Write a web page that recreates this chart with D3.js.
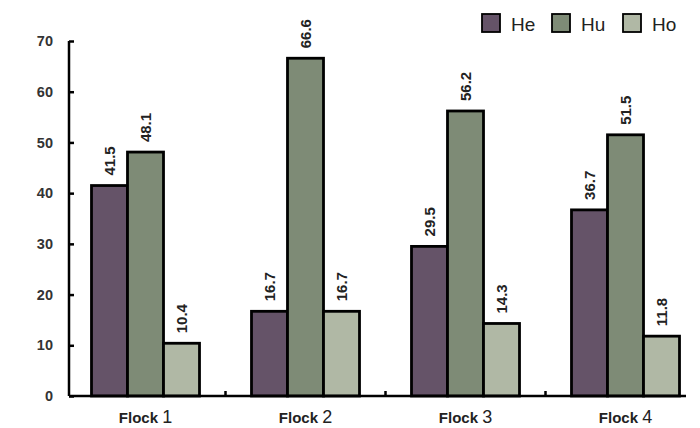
<!DOCTYPE html>
<html><head><meta charset="utf-8">
<script src="https://cdn.jsdelivr.net/npm/d3@7"></script>
<style>body{margin:0;background:#fff}svg{display:block}</style>
</head><body><svg id="c" width="700" height="428"></svg>
<script>
const categories = ["1", "2", "3", "4"];
const seriesNames = ["He", "Hu", "Ho"];
const heValues = [41.5, 16.7, 29.5, 36.7];
const huValues = [48.1, 66.6, 56.2, 51.5];
const hoValues = [10.4, 16.7, 14.3, 11.8];
const yTicks = [0, 10, 20, 30, 40, 50, 60, 70];
const colors = ["#655368", "#7e8b76", "#b0b8a5"];

const FONT = "Liberation Sans, Arial, Helvetica, sans-serif";
const values = [heValues, huValues, hoValues];
const svg = d3.select("#c");
const x = d3.scaleBand().domain(categories).range([65.5, 705.5]);
const inner = d3.scaleBand().domain(seriesNames).range([0, 108]);
const y = d3.scaleLinear().domain([0, 70]).range([396, 41]);

// y axis
const yAxis = svg.append("g").attr("transform", "translate(69,0)")
  .call(d3.axisLeft(y).tickValues(yTicks).tickSize(-5).tickPadding(16));
yAxis.select(".domain").attr("d", `M0,${y(70)}V${y(0)}`).attr("stroke", "#000").attr("stroke-width", 2.5);
yAxis.selectAll(".tick line").attr("stroke", "#000").attr("stroke-width", 2.5).attr("x1", 0).attr("x2", 5);
yAxis.selectAll(".tick text").attr("font-family", FONT)
  .attr("font-weight", "bold").attr("font-size", 14.5).attr("fill", "#333");

// bars
categories.forEach((c, i) => {
  const g = svg.append("g").attr("transform", `translate(${x(c) + x.bandwidth() / 2 - 54},0)`);
  seriesNames.forEach((s, j) => {
    const v = values[j][i];
    g.append("rect").attr("x", inner(s)).attr("width", inner.bandwidth())
      .attr("y", y(v)).attr("height", y(0) - y(v))
      .attr("fill", colors[j]).attr("stroke", "#000").attr("stroke-width", 2.8);
    g.append("text").attr("transform", `translate(${inner(s) + inner.bandwidth() / 2 + 5.4},${y(v) - 10}) rotate(-90)`)
      .attr("font-family", FONT).attr("font-weight", "bold")
      .attr("font-size", 15).attr("fill", "#222").text(v.toFixed(1));
  });
});

// x axis
const xAxisG = svg.append("g");
xAxisG.append("line").attr("x1", 69).attr("x2", 686).attr("y1", y(0)).attr("y2", y(0))
  .attr("stroke", "#000").attr("stroke-width", 2.5);
categories.slice(1).forEach(c => {
  xAxisG.append("line").attr("x1", x(c)).attr("x2", x(c)).attr("y1", y(0)).attr("y2", y(0) - 5)
    .attr("stroke", "#000").attr("stroke-width", 2.5);
});
categories.forEach(c => {
  const t = xAxisG.append("text").attr("x", x(c) + x.bandwidth() / 2).attr("y", 423)
    .attr("text-anchor", "middle").attr("font-family", FONT).attr("fill", "#222");
  t.append("tspan").attr("font-weight", "bold").attr("font-size", 15).text("Flock ");
  t.append("tspan").attr("font-size", 18).text(c);
});

// legend
const legX = [482, 552, 623];
seriesNames.forEach((s, j) => {
  svg.append("rect").attr("x", legX[j]).attr("y", 14).attr("width", 18).attr("height", 18)
    .attr("fill", colors[j]).attr("stroke", "#000").attr("stroke-width", 1.8);
  svg.append("text").attr("x", legX[j] + 29).attr("y", 31)
    .attr("font-family", FONT).attr("font-size", 19).attr("fill", "#222").text(s);
});
</script></body></html>
